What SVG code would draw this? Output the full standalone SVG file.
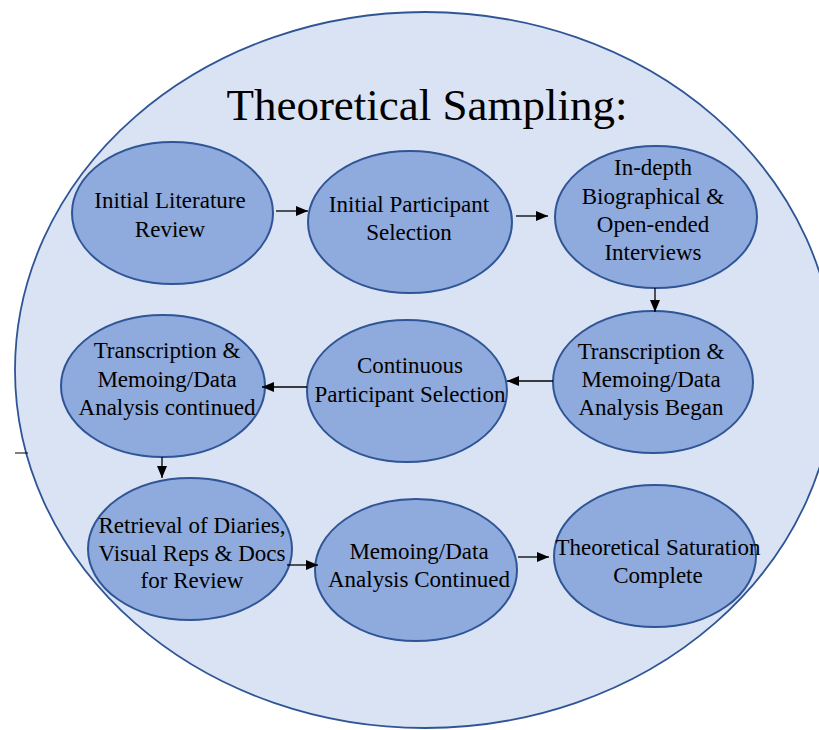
<svg xmlns="http://www.w3.org/2000/svg" width="819" height="730" viewBox="0 0 819 730">
<style>
.bg{fill:#dae3f3;stroke:#2f5597;stroke-width:1.8}
.node ellipse{fill:#8faadc;stroke:#2f5597;stroke-width:2}
.conn line{stroke:#000;stroke-width:1.3;marker-end:url(#ah)}
</style>
<defs>
<marker id="ah" markerWidth="12" markerHeight="10" refX="12" refY="5" orient="auto" markerUnits="userSpaceOnUse">
<path d="M0,0 L12,5 L0,10 Z" fill="#000"/>
</marker>
</defs>
<rect width="819" height="730" fill="#fff"/>
<ellipse class="bg" cx="425" cy="370" rx="410" ry="358"/>
<line x1="15" y1="453" x2="28" y2="453" stroke="#000" stroke-width="1"/>
<text x="427" y="120" font-family="Times New Roman" font-size="45" text-anchor="middle">Theoretical Sampling:</text>
<g id="n1" class="node"><ellipse cx="172.5" cy="213" rx="100.5" ry="71"/><text x="170" y="208" font-family="Times New Roman" font-size="23" text-anchor="middle">Initial Literature</text><text x="170" y="237" font-family="Times New Roman" font-size="23" text-anchor="middle">Review</text></g>
<g id="n2" class="node"><ellipse cx="410" cy="222" rx="102" ry="71"/><text x="409" y="212" font-family="Times New Roman" font-size="23" text-anchor="middle">Initial Participant</text><text x="409" y="240" font-family="Times New Roman" font-size="23" text-anchor="middle">Selection</text></g>
<g id="n3" class="node"><ellipse cx="656" cy="217" rx="101" ry="71"/><text x="653" y="175" font-family="Times New Roman" font-size="23" text-anchor="middle">In-depth</text><text x="653" y="204" font-family="Times New Roman" font-size="23" text-anchor="middle">Biographical &amp;</text><text x="653" y="232" font-family="Times New Roman" font-size="23" text-anchor="middle">Open-ended</text><text x="653" y="260" font-family="Times New Roman" font-size="23" text-anchor="middle">Interviews</text></g>
<g id="n4" class="node"><ellipse cx="653" cy="382" rx="100" ry="71"/><text x="651" y="359" font-family="Times New Roman" font-size="23" text-anchor="middle">Transcription &amp;</text><text x="651" y="387" font-family="Times New Roman" font-size="23" text-anchor="middle">Memoing/Data</text><text x="651" y="415" font-family="Times New Roman" font-size="23" text-anchor="middle">Analysis Began</text></g>
<g id="n5" class="node"><ellipse cx="407" cy="391" rx="100" ry="71"/><text x="410" y="373" font-family="Times New Roman" font-size="23" text-anchor="middle">Continuous</text><text x="410" y="402" font-family="Times New Roman" font-size="23" text-anchor="middle">Participant Selection</text></g>
<g id="n6" class="node"><ellipse cx="163" cy="386" rx="102" ry="71"/><text x="167" y="358" font-family="Times New Roman" font-size="23" text-anchor="middle">Transcription &amp;</text><text x="167" y="387" font-family="Times New Roman" font-size="23" text-anchor="middle">Memoing/Data</text><text x="167" y="415" font-family="Times New Roman" font-size="23" text-anchor="middle">Analysis continued</text></g>
<g id="n7" class="node"><ellipse cx="190" cy="549" rx="102" ry="71"/><text x="192" y="533" font-family="Times New Roman" font-size="23" text-anchor="middle">Retrieval of Diaries,</text><text x="192" y="561" font-family="Times New Roman" font-size="23" text-anchor="middle">Visual Reps &amp; Docs</text><text x="192" y="588" font-family="Times New Roman" font-size="23" text-anchor="middle">for Review</text></g>
<g id="n8" class="node"><ellipse cx="416" cy="570" rx="101" ry="71"/><text x="419" y="559" font-family="Times New Roman" font-size="23" text-anchor="middle">Memoing/Data</text><text x="419" y="587" font-family="Times New Roman" font-size="23" text-anchor="middle">Analysis Continued</text></g>
<g id="n9" class="node"><ellipse cx="655" cy="556" rx="101" ry="71"/><text x="658" y="555" font-family="Times New Roman" font-size="23" text-anchor="middle">Theoretical Saturation</text><text x="658" y="583" font-family="Times New Roman" font-size="23" text-anchor="middle">Complete</text></g>
<g id="connectors" class="conn">
<line x1="276" y1="211" x2="308" y2="211"/>
<line x1="516" y1="216" x2="548" y2="216"/>
<line x1="655" y1="288" x2="655" y2="312"/>
<line x1="553" y1="381" x2="507" y2="381"/>
<line x1="307" y1="387" x2="262" y2="387"/>
<line x1="162" y1="457" x2="162" y2="478"/>
<line x1="287" y1="565" x2="318" y2="565"/>
<line x1="518" y1="557" x2="549" y2="557"/>
</g>
</svg>
